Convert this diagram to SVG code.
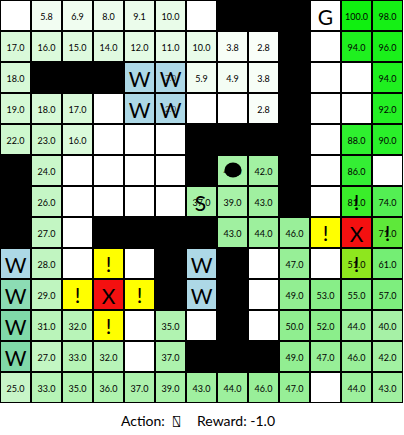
<svg xmlns="http://www.w3.org/2000/svg" width="404" height="435" viewBox="0 0 404 435">
<style>
text{font-family:Lato,"DejaVu Sans",sans-serif;text-anchor:middle;dominant-baseline:central;fill:#000}
.n{font-size:9px}
.s{font-size:8px;fill:#444}
.L{font-size:21px}
.e{fill:#fff}
.w{fill:#add8e6}
.wg{fill:#80d9a8}
.y{fill:#ffff00}
.r{fill:#f41010}
.cap{font-size:14px;dominant-baseline:alphabetic;text-anchor:start}
</style>
<rect x="0" y="0" width="404" height="435" fill="#fff"/>
<rect id="walls" x="0" y="0" width="403" height="403" fill="#000"/>
<g id="grid">
<!-- row 0 -->
<g id="c0-0"><rect x="1" y="1" width="29" height="29" class="e"/></g>
<g id="c0-1"><rect x="32" y="1" width="29" height="29" fill="#f2fdf2"/><text class="n" x="46.5" y="16">5.8</text></g>
<g id="c0-2"><rect x="63" y="1" width="29" height="29" fill="#f0fdf0"/><text class="n" x="77.5" y="16">6.9</text></g>
<g id="c0-3"><rect x="94" y="1" width="29" height="29" fill="#edfced"/><text class="n" x="108.5" y="16">8.0</text></g>
<g id="c0-4"><rect x="125" y="1" width="29" height="29" fill="#ebfceb"/><text class="n" x="139.5" y="16">9.1</text></g>
<g id="c0-5"><rect x="156" y="1" width="29" height="29" fill="#e9fce9"/><text class="n" x="170.5" y="16">10.0</text></g>
<g id="c0-6"><rect x="187" y="1" width="29" height="29" class="e"/></g>
<g id="c0-10"><rect x="311" y="1" width="29" height="29" class="e"/><text class="L" x="325.5" y="16">G</text></g>
<g id="c0-11"><rect x="342" y="1" width="29" height="29" fill="#10f010"/><text class="n" x="356.5" y="16">100.0</text></g>
<g id="c0-12"><rect x="373" y="1" width="29" height="29" fill="#15f015"/><text class="n" x="387.5" y="16">98.0</text></g>
<!-- row 1 -->
<g id="c1-0"><rect x="1" y="32" width="29" height="29" fill="#d9f9d9"/><text class="n" x="15.5" y="47">17.0</text></g>
<g id="c1-1"><rect x="32" y="32" width="29" height="29" fill="#dbfadb"/><text class="n" x="46.5" y="47">16.0</text></g>
<g id="c1-2"><rect x="63" y="32" width="29" height="29" fill="#defade"/><text class="n" x="77.5" y="47">15.0</text></g>
<g id="c1-3"><rect x="94" y="32" width="29" height="29" fill="#e0fae0"/><text class="n" x="108.5" y="47">14.0</text></g>
<g id="c1-4"><rect x="125" y="32" width="29" height="29" fill="#e4fbe4"/><text class="n" x="139.5" y="47">12.0</text></g>
<g id="c1-5"><rect x="156" y="32" width="29" height="29" fill="#e7fbe7"/><text class="n" x="170.5" y="47">11.0</text></g>
<g id="c1-6"><rect x="187" y="32" width="29" height="29" fill="#e9fce9"/><text class="n" x="201.5" y="47">10.0</text></g>
<g id="c1-7"><rect x="218" y="32" width="29" height="29" fill="#f7fef7"/><text class="n" x="232.5" y="47">3.8</text></g>
<g id="c1-8"><rect x="249" y="32" width="29" height="29" fill="#f9fef9"/><text class="n" x="263.5" y="47">2.8</text></g>
<g id="c1-10"><rect x="311" y="32" width="29" height="29" class="e"/></g>
<g id="c1-11"><rect x="342" y="32" width="29" height="29" fill="#1ff01f"/><text class="n" x="356.5" y="47">94.0</text></g>
<g id="c1-12"><rect x="373" y="32" width="29" height="29" fill="#1af01a"/><text class="n" x="387.5" y="47">96.0</text></g>
<!-- row 2 -->
<g id="c2-0"><rect x="1" y="63" width="29" height="29" fill="#d7f9d7"/><text class="n" x="15.5" y="78">18.0</text></g>
<g id="c2-4"><rect x="125" y="63" width="29" height="29" class="w"/><text class="L" x="139.5" y="78">W</text></g>
<g id="c2-5"><rect x="156" y="63" width="29" height="29" class="w"/><text class="s" x="170.5" y="78">7.0</text><text class="L" x="170.5" y="78">W</text></g>
<g id="c2-6"><rect x="187" y="63" width="29" height="29" fill="#f2fdf2"/><text class="n" x="201.5" y="78">5.9</text></g>
<g id="c2-7"><rect x="218" y="63" width="29" height="29" fill="#f4fdf4"/><text class="n" x="232.5" y="78">4.9</text></g>
<g id="c2-8"><rect x="249" y="63" width="29" height="29" fill="#f7fef7"/><text class="n" x="263.5" y="78">3.8</text></g>
<g id="c2-10"><rect x="311" y="63" width="29" height="29" class="e"/></g>
<g id="c2-11"><rect x="342" y="63" width="29" height="29" class="e"/></g>
<g id="c2-12"><rect x="373" y="63" width="29" height="29" fill="#1ff01f"/><text class="n" x="387.5" y="78">94.0</text></g>
<!-- row 3 -->
<g id="c3-0"><rect x="1" y="94" width="29" height="29" fill="#d5f9d5"/><text class="n" x="15.5" y="109">19.0</text></g>
<g id="c3-1"><rect x="32" y="94" width="29" height="29" fill="#d7f9d7"/><text class="n" x="46.5" y="109">18.0</text></g>
<g id="c3-2"><rect x="63" y="94" width="29" height="29" fill="#d9f9d9"/><text class="n" x="77.5" y="109">17.0</text></g>
<g id="c3-3"><rect x="94" y="94" width="29" height="29" class="e"/></g>
<g id="c3-4"><rect x="125" y="94" width="29" height="29" class="w"/><text class="L" x="139.5" y="109">W</text></g>
<g id="c3-5"><rect x="156" y="94" width="29" height="29" class="w"/><text class="s" x="170.5" y="109">2.0</text><text class="L" x="170.5" y="109">W</text></g>
<g id="c3-6"><rect x="187" y="94" width="29" height="29" class="e"/></g>
<g id="c3-7"><rect x="218" y="94" width="29" height="29" class="e"/></g>
<g id="c3-8"><rect x="249" y="94" width="29" height="29" fill="#f9fef9"/><text class="n" x="263.5" y="109">2.8</text></g>
<g id="c3-10"><rect x="311" y="94" width="29" height="29" class="e"/></g>
<g id="c3-11"><rect x="342" y="94" width="29" height="29" class="e"/></g>
<g id="c3-12"><rect x="373" y="94" width="29" height="29" fill="#24f024"/><text class="n" x="387.5" y="109">92.0</text></g>
<!-- row 4 -->
<g id="c4-0"><rect x="1" y="125" width="29" height="29" fill="#cef8ce"/><text class="n" x="15.5" y="140">22.0</text></g>
<g id="c4-1"><rect x="32" y="125" width="29" height="29" fill="#ccf7cc"/><text class="n" x="46.5" y="140">23.0</text></g>
<g id="c4-2"><rect x="63" y="125" width="29" height="29" fill="#dbfadb"/><text class="n" x="77.5" y="140">16.0</text></g>
<g id="c4-3"><rect x="94" y="125" width="29" height="29" class="e"/></g>
<g id="c4-4"><rect x="125" y="125" width="29" height="29" class="e"/></g>
<g id="c4-5"><rect x="156" y="125" width="29" height="29" class="e"/></g>
<g id="c4-10"><rect x="311" y="125" width="29" height="29" class="e"/></g>
<g id="c4-11"><rect x="342" y="125" width="29" height="29" fill="#2ff02f"/><text class="n" x="356.5" y="140">88.0</text></g>
<g id="c4-12"><rect x="373" y="125" width="29" height="29" fill="#2af02a"/><text class="n" x="387.5" y="140">90.0</text></g>
<!-- row 5 -->
<g id="c5-1"><rect x="32" y="156" width="29" height="29" fill="#caf7ca"/><text class="n" x="46.5" y="171">24.0</text></g>
<g id="c5-2"><rect x="63" y="156" width="29" height="29" class="e"/></g>
<g id="c5-3"><rect x="94" y="156" width="29" height="29" class="e"/></g>
<g id="c5-4"><rect x="125" y="156" width="29" height="29" class="e"/></g>
<g id="c5-5"><rect x="156" y="156" width="29" height="29" class="e"/></g>
<g id="c5-7"><rect x="218" y="156" width="29" height="29" fill="#a6f1a6"/><text class="n" x="232.5" y="171">40.0</text><ellipse id="agent" cx="233" cy="170" rx="8.5" ry="7.5" fill="#000"/></g>
<g id="c5-8"><rect x="249" y="156" width="29" height="29" fill="#a2f1a2"/><text class="n" x="263.5" y="171">42.0</text></g>
<g id="c5-10"><rect x="311" y="156" width="29" height="29" class="e"/></g>
<g id="c5-11"><rect x="342" y="156" width="29" height="29" fill="#34ef34"/><text class="n" x="356.5" y="171">86.0</text></g>
<g id="c5-12"><rect x="373" y="156" width="29" height="29" class="e"/></g>
<!-- row 6 -->
<g id="c6-1"><rect x="32" y="187" width="29" height="29" fill="#c5f6c5"/><text class="n" x="46.5" y="202">26.0</text></g>
<g id="c6-2"><rect x="63" y="187" width="29" height="29" class="e"/></g>
<g id="c6-3"><rect x="94" y="187" width="29" height="29" class="e"/></g>
<g id="c6-4"><rect x="125" y="187" width="29" height="29" class="e"/></g>
<g id="c6-5"><rect x="156" y="187" width="29" height="29" class="e"/></g>
<g id="c6-6"><rect x="187" y="187" width="29" height="29" fill="#a8f2a8"/><text class="n" x="201.5" y="202">37.0</text><text class="L" x="200.5" y="202">S</text></g>
<g id="c6-7"><rect x="218" y="187" width="29" height="29" fill="#a8f2a8"/><text class="n" x="232.5" y="202">39.0</text></g>
<g id="c6-8"><rect x="249" y="187" width="29" height="29" fill="#a0f0a0"/><text class="n" x="263.5" y="202">43.0</text></g>
<g id="c6-10"><rect x="311" y="187" width="29" height="29" class="e"/></g>
<g id="c6-11"><rect x="342" y="187" width="29" height="29" fill="#3aee2a"/><text class="n" x="356.5" y="202">81.0</text><text class="L" x="356.5" y="201">!</text></g>
<g id="c6-12"><rect x="373" y="187" width="29" height="29" fill="#53ef53"/><text class="n" x="387.5" y="202">74.0</text></g>
<!-- row 7 -->
<g id="c7-1"><rect x="32" y="218" width="29" height="29" fill="#c3f6c3"/><text class="n" x="46.5" y="233">27.0</text></g>
<g id="c7-2"><rect x="63" y="218" width="29" height="29" class="e"/></g>
<g id="c7-7"><rect x="218" y="218" width="29" height="29" fill="#a0f0a0"/><text class="n" x="232.5" y="233">43.0</text></g>
<g id="c7-8"><rect x="249" y="218" width="29" height="29" fill="#9df09d"/><text class="n" x="263.5" y="233">44.0</text></g>
<g id="c7-9"><rect x="280" y="218" width="29" height="29" fill="#99ef99"/><text class="n" x="294.5" y="233">46.0</text></g>
<g id="c7-10"><rect x="311" y="218" width="29" height="29" class="y"/><text class="L" x="325.5" y="232">!</text></g>
<g id="c7-11"><rect x="342" y="218" width="29" height="29" class="r"/><text class="L" x="356.5" y="233">X</text></g>
<g id="c7-12"><rect x="373" y="218" width="29" height="29" fill="#5ee83a"/><text class="n" x="387.5" y="233">71.0</text><text class="L" x="387.5" y="232">!</text></g>
<!-- row 8 -->
<g id="c8-0"><rect x="1" y="249" width="29" height="29" class="w"/><text class="L" x="15.5" y="264">W</text></g>
<g id="c8-1"><rect x="32" y="249" width="29" height="29" fill="#c1f5c1"/><text class="n" x="46.5" y="264">28.0</text></g>
<g id="c8-2"><rect x="63" y="249" width="29" height="29" class="e"/></g>
<g id="c8-3"><rect x="94" y="249" width="29" height="29" class="y"/><text class="L" x="108.5" y="263">!</text></g>
<g id="c8-4"><rect x="125" y="249" width="29" height="29" class="e"/></g>
<g id="c8-6"><rect x="187" y="249" width="29" height="29" class="w"/><text class="L" x="201.5" y="264">W</text></g>
<g id="c8-8"><rect x="249" y="249" width="29" height="29" class="e"/></g>
<g id="c8-9"><rect x="280" y="249" width="29" height="29" fill="#97ef97"/><text class="n" x="294.5" y="264">47.0</text></g>
<g id="c8-10"><rect x="311" y="249" width="29" height="29" class="e"/></g>
<g id="c8-11"><rect x="342" y="249" width="29" height="29" fill="#8ee61e"/><text class="n" x="356.5" y="264">51.0</text><text class="L" x="356.5" y="263">!</text></g>
<g id="c8-12"><rect x="373" y="249" width="29" height="29" fill="#74ee74"/><text class="n" x="387.5" y="264">61.0</text></g>
<!-- row 9 -->
<g id="c9-0"><rect x="1" y="280" width="29" height="29" fill="#8cdcb4"/><text class="L" x="15.5" y="295">W</text></g>
<g id="c9-1"><rect x="32" y="280" width="29" height="29" fill="#bff5bf"/><text class="n" x="46.5" y="295">29.0</text></g>
<g id="c9-2"><rect x="63" y="280" width="29" height="29" class="y"/><text class="L" x="77.5" y="294">!</text></g>
<g id="c9-3"><rect x="94" y="280" width="29" height="29" class="r"/><text class="L" x="108.5" y="295">X</text></g>
<g id="c9-4"><rect x="125" y="280" width="29" height="29" class="y"/><text class="L" x="139.5" y="294">!</text></g>
<g id="c9-6"><rect x="187" y="280" width="29" height="29" class="w"/><text class="L" x="201.5" y="295">W</text></g>
<g id="c9-8"><rect x="249" y="280" width="29" height="29" class="e"/></g>
<g id="c9-9"><rect x="280" y="280" width="29" height="29" fill="#92ee92"/><text class="n" x="294.5" y="295">49.0</text></g>
<g id="c9-10"><rect x="311" y="280" width="29" height="29" fill="#88ee88"/><text class="n" x="325.5" y="295">53.0</text></g>
<g id="c9-11"><rect x="342" y="280" width="29" height="29" fill="#83ee83"/><text class="n" x="356.5" y="295">55.0</text></g>
<g id="c9-12"><rect x="373" y="280" width="29" height="29" fill="#7eee7e"/><text class="n" x="387.5" y="295">57.0</text></g>
<!-- row 10 -->
<g id="c10-0"><rect x="1" y="311" width="29" height="29" class="wg"/><text class="L" x="15.5" y="326">W</text></g>
<g id="c10-1"><rect x="32" y="311" width="29" height="29" fill="#baf4ba"/><text class="n" x="46.5" y="326">31.0</text></g>
<g id="c10-2"><rect x="63" y="311" width="29" height="29" fill="#b8f4b8"/><text class="n" x="77.5" y="326">32.0</text></g>
<g id="c10-3"><rect x="94" y="311" width="29" height="29" class="y"/><text class="L" x="108.5" y="325">!</text></g>
<g id="c10-4"><rect x="125" y="311" width="29" height="29" class="e"/></g>
<g id="c10-5"><rect x="156" y="311" width="29" height="29" fill="#b1f3b1"/><text class="n" x="170.5" y="326">35.0</text></g>
<g id="c10-6"><rect x="187" y="311" width="29" height="29" class="e"/></g>
<g id="c10-8"><rect x="249" y="311" width="29" height="29" class="e"/></g>
<g id="c10-9"><rect x="280" y="311" width="29" height="29" fill="#90ee90"/><text class="n" x="294.5" y="326">50.0</text></g>
<g id="c10-10"><rect x="311" y="311" width="29" height="29" fill="#8bee8b"/><text class="n" x="325.5" y="326">52.0</text></g>
<g id="c10-11"><rect x="342" y="311" width="29" height="29" fill="#9df09d"/><text class="n" x="356.5" y="326">44.0</text></g>
<g id="c10-12"><rect x="373" y="311" width="29" height="29" fill="#a6f1a6"/><text class="n" x="387.5" y="326">40.0</text></g>
<!-- row 11 -->
<g id="c11-0"><rect x="1" y="342" width="29" height="29" class="wg"/><text class="L" x="15.5" y="357">W</text></g>
<g id="c11-1"><rect x="32" y="342" width="29" height="29" fill="#c3f6c3"/><text class="n" x="46.5" y="357">27.0</text></g>
<g id="c11-2"><rect x="63" y="342" width="29" height="29" fill="#b6f4b6"/><text class="n" x="77.5" y="357">33.0</text></g>
<g id="c11-3"><rect x="94" y="342" width="29" height="29" fill="#b8f4b8"/><text class="n" x="108.5" y="357">32.0</text></g>
<g id="c11-4"><rect x="125" y="342" width="29" height="29" class="e"/></g>
<g id="c11-5"><rect x="156" y="342" width="29" height="29" fill="#adf2ad"/><text class="n" x="170.5" y="357">37.0</text></g>
<g id="c11-9"><rect x="280" y="342" width="29" height="29" fill="#92ee92"/><text class="n" x="294.5" y="357">49.0</text></g>
<g id="c11-10"><rect x="311" y="342" width="29" height="29" fill="#97ef97"/><text class="n" x="325.5" y="357">47.0</text></g>
<g id="c11-11"><rect x="342" y="342" width="29" height="29" fill="#99ef99"/><text class="n" x="356.5" y="357">46.0</text></g>
<g id="c11-12"><rect x="373" y="342" width="29" height="29" fill="#a2f1a2"/><text class="n" x="387.5" y="357">42.0</text></g>
<!-- row 12 -->
<g id="c12-0"><rect x="1" y="373" width="29" height="29" fill="#c8f5c8"/><text class="n" x="15.5" y="388">25.0</text></g>
<g id="c12-1"><rect x="32" y="373" width="29" height="29" fill="#b6f4b6"/><text class="n" x="46.5" y="388">33.0</text></g>
<g id="c12-2"><rect x="63" y="373" width="29" height="29" fill="#b1f3b1"/><text class="n" x="77.5" y="388">35.0</text></g>
<g id="c12-3"><rect x="94" y="373" width="29" height="29" fill="#aff3af"/><text class="n" x="108.5" y="388">36.0</text></g>
<g id="c12-4"><rect x="125" y="373" width="29" height="29" fill="#adf2ad"/><text class="n" x="139.5" y="388">37.0</text></g>
<g id="c12-5"><rect x="156" y="373" width="29" height="29" fill="#a8f2a8"/><text class="n" x="170.5" y="388">39.0</text></g>
<g id="c12-6"><rect x="187" y="373" width="29" height="29" fill="#a0f0a0"/><text class="n" x="201.5" y="388">43.0</text></g>
<g id="c12-7"><rect x="218" y="373" width="29" height="29" fill="#9df09d"/><text class="n" x="232.5" y="388">44.0</text></g>
<g id="c12-8"><rect x="249" y="373" width="29" height="29" fill="#99ef99"/><text class="n" x="263.5" y="388">46.0</text></g>
<g id="c12-9"><rect x="280" y="373" width="29" height="29" fill="#97ef97"/><text class="n" x="294.5" y="388">47.0</text></g>
<g id="c12-10"><rect x="311" y="373" width="29" height="29" class="e"/></g>
<g id="c12-11"><rect x="342" y="373" width="29" height="29" fill="#9df09d"/><text class="n" x="356.5" y="388">44.0</text></g>
<g id="c12-12"><rect x="373" y="373" width="29" height="29" fill="#a0f0a0"/><text class="n" x="387.5" y="388">43.0</text></g>
</g>
<g id="connectors"/>
<g id="caption">
<text class="cap" x="121" y="426">Action:</text>
<text class="cap" x="173" y="426" style="font-family:'DejaVu Sans Mono','DejaVu Sans',sans-serif;font-size:12px">⍂</text>
<text class="cap" x="197" y="426">Reward: -1.0</text>
</g>
</svg>
